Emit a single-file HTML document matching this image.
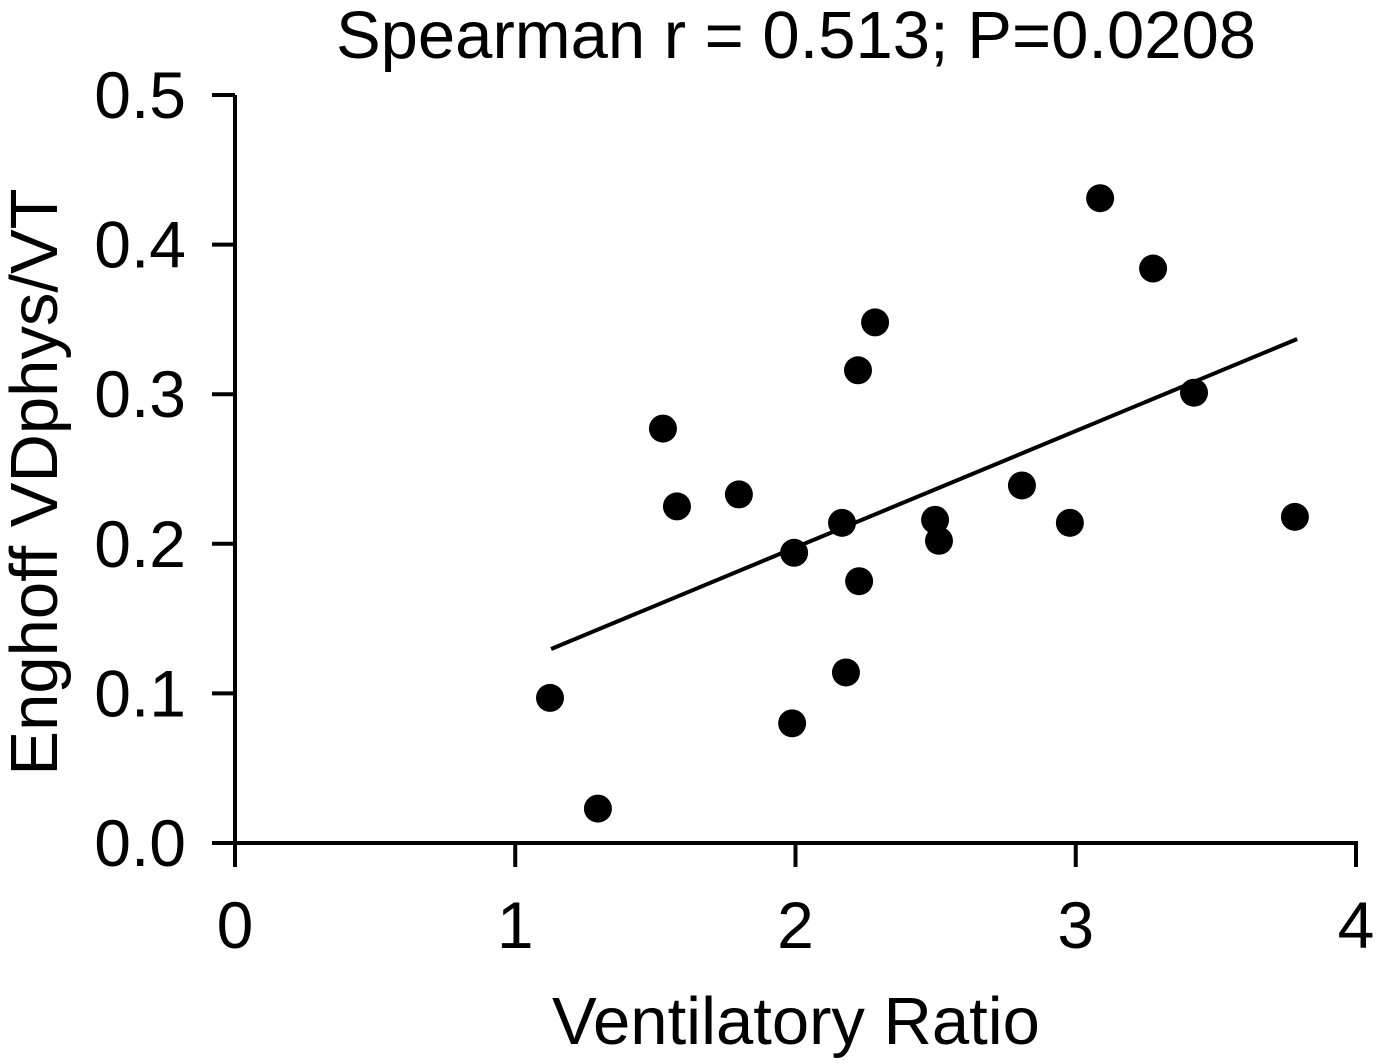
<!DOCTYPE html>
<html><head><meta charset="utf-8"><style>
html,body{margin:0;padding:0;background:#fff}
svg text{font-family:"Liberation Sans",Arial,sans-serif;fill:#000}
</style></head><body>
<svg id="chart" width="1376" height="1059" viewBox="0 0 1376 1059" xmlns="http://www.w3.org/2000/svg"></svg>
<script>
const xValues=[1.124,1.295,1.527,1.577,1.798,1.995,1.988,2.166,2.18,2.223,2.227,2.284,2.498,2.512,2.808,2.979,3.087,3.276,3.422,3.782];
const yValues=[0.097,0.023,0.277,0.225,0.233,0.194,0.080,0.214,0.114,0.316,0.175,0.348,0.216,0.202,0.239,0.214,0.431,0.384,0.301,0.218];
const fitX=[1.128,3.79];
const fitY=[0.1297,0.3369];
const xTicks=[0,1,2,3,4];
const yTicks=[0,0.1,0.2,0.3,0.4,0.5];
const yTickLabels=["0.0","0.1","0.2","0.3","0.4","0.5"];

const NS="http://www.w3.org/2000/svg";
const svg=document.getElementById('chart');
const X=v=>235+v*280.25;
const Y=v=>843-v*1496;
function mk(tag,attrs,parent){const e=document.createElementNS(NS,tag);for(const k in attrs)e.setAttribute(k,attrs[k]);(parent||svg).appendChild(e);return e;}

let e=mk('text',{x:796,y:58,'font-size':67,'text-anchor':'middle'});


e.textContent='Spearman r = 0.513; P=0.0208';

e=mk('line',{x1:235,y1:95,x2:235,y2:867,stroke:'#000','stroke-width':4});


e=mk('line',{x1:212,y1:843,x2:1358,y2:843,stroke:'#000','stroke-width':4});



xTicks.forEach(t=>{
  e=mk('line',{x1:X(t),y1:843,x2:X(t),y2:867,stroke:'#000','stroke-width':4});
  
  
  e=mk('text',{x:X(t),y:948,'font-size':66,'text-anchor':'middle'});
  
  
  e.textContent=String(t);
});
yTicks.forEach((t,i)=>{
  e=mk('line',{x1:212,y1:Y(t),x2:235,y2:Y(t),stroke:'#000','stroke-width':4});
  
  
  e=mk('text',{x:186,y:Y(t)+23,'font-size':66,'text-anchor':'end'});
  
  
  e.textContent=yTickLabels[i];
});

e=mk('text',{x:796,y:1044,'font-size':67,'text-anchor':'middle'});


e.textContent='Ventilatory Ratio';
e=mk('text',{x:0,y:0,'font-size':67,'text-anchor':'middle',transform:'translate(57,482) rotate(-90)'});


e.textContent='Enghoff VDphys/VT';

e=mk('line',{x1:X(fitX[0]),y1:Y(fitY[0]),x2:X(fitX[1]),y2:Y(fitY[1]),stroke:'#000','stroke-width':4});



xValues.forEach((v,i)=>{
  const c=mk('circle',{cx:X(v),cy:Y(yValues[i]),r:14,fill:'#000'});
  
  
});
</script>
</body></html>
